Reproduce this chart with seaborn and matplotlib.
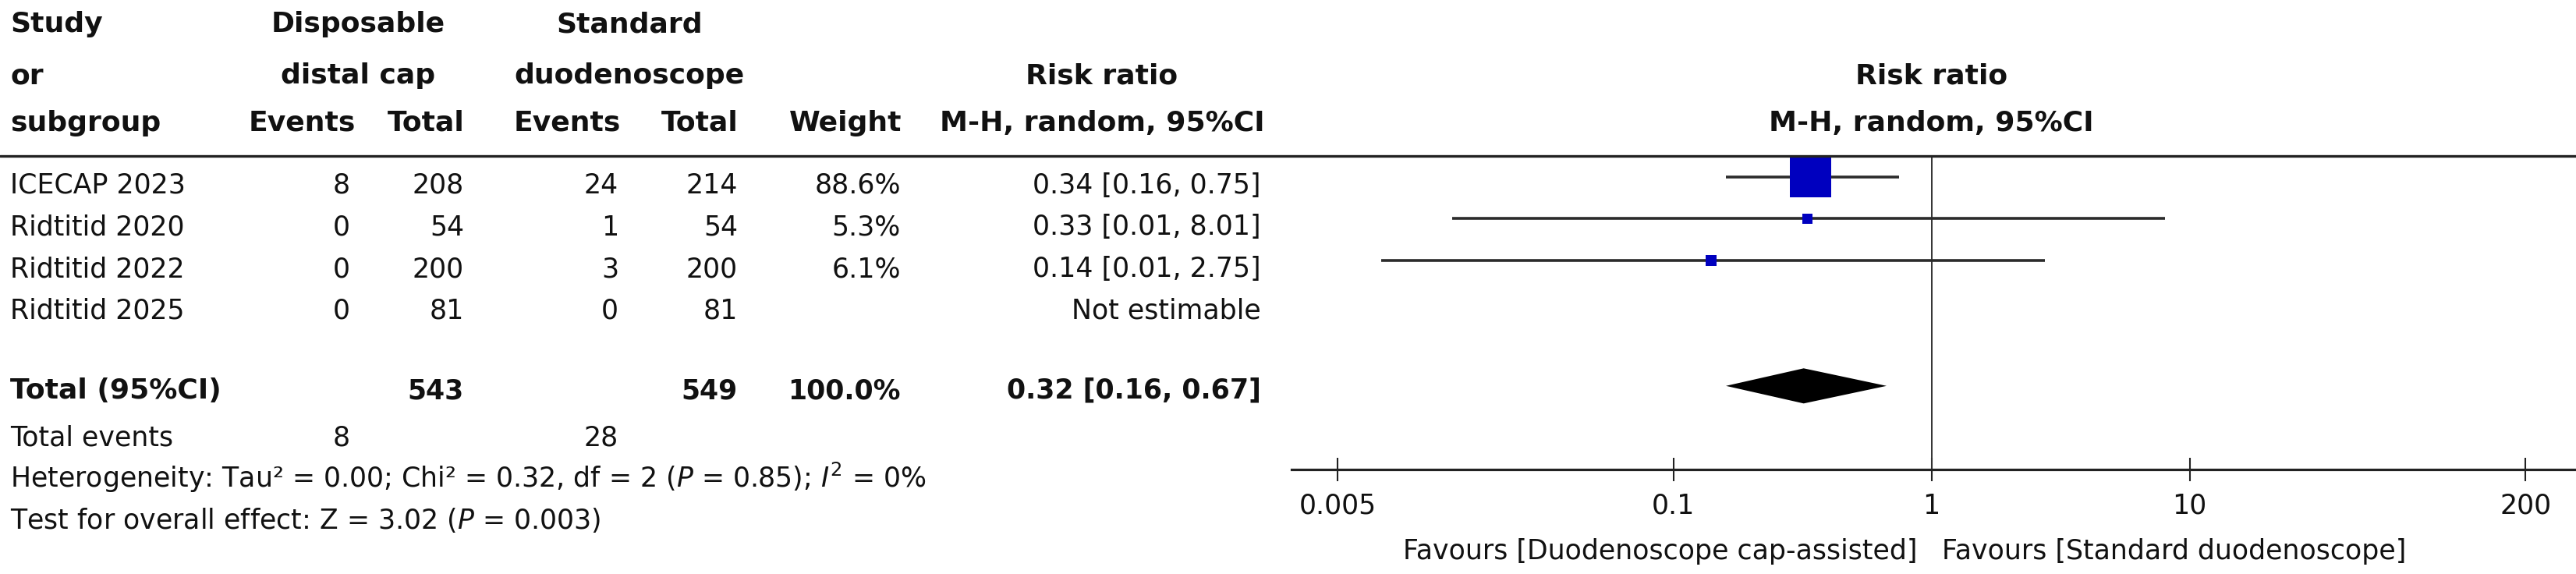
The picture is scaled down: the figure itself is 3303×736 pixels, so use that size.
import numpy as np
import pandas as pd
import matplotlib
matplotlib.use('Agg')
import matplotlib.pyplot as plt
import matplotlib.transforms as mtransforms
from matplotlib.lines import Line2D
from matplotlib.ticker import NullLocator
import seaborn as sns

# ---- data ----
studies = ['ICECAP 2023', 'Ridtitid 2020', 'Ridtitid 2022', 'Ridtitid 2025']
cap_events = [8, 0, 0, 0]
cap_total = [208, 54, 200, 81]
std_events = [24, 1, 3, 0]
std_total = [214, 54, 200, 81]
weights = [88.6, 5.3, 6.1, np.nan]
rr = [0.34, 0.33, 0.14, np.nan]
ci_lo = [0.16, 0.0139, 0.0074, np.nan]
ci_hi = [0.75, 8.01, 2.75, np.nan]

pooled_rr = 0.32
pooled_lo = 0.16
pooled_hi = 0.67
cap_total_sum = 543
std_total_sum = 549
cap_events_sum = 8
std_events_sum = 28

axis_ticks = [0.005, 0.1, 1, 10, 200]
axis_labels = ['0.005', '0.1', '1', '10', '200']

heterogeneity = 'Heterogeneity: Tau² = 0.00; Chi² = 0.32, df = 2 ($P$ = 0.85); $I^2$ = 0%'
overall = 'Test for overall effect: Z = 3.02 ($P$ = 0.003)'
favours_left = 'Favours [Duodenoscope cap-assisted]'
favours_right = 'Favours [Standard duodenoscope]'

sns.set_theme(style='white')
plt.rcParams['font.family'] = ['DejaVu Sans']
plt.rcParams['mathtext.fontset'] = 'dejavusans'

W, H = 3303, 736
fig = plt.figure(figsize=(W / 100, H / 100), dpi=100)
fig.patch.set_facecolor('white')


def fx(px):
    return px / W


def fy(py):
    return 1 - py / H


FS = 25       # body text
FSB = 26      # bold headers
INK = '#111111'

# forest panel: rows -0.5 (header rule) .. 7 (axis line)
ax = fig.add_axes([fx(1656), fy(602), 1 - fx(1656), fy(200) - fy(602)])
ax.set_facecolor('none')

df = pd.DataFrame({'study': studies, 'rr': rr, 'lo': ci_lo, 'hi': ci_hi,
                   'weight': weights, 'row': np.arange(len(studies))})
est = df.dropna(subset=['rr'])
pooled_row = 5

ax.axvline(1, color='#333333', lw=1.4, zorder=1)
ax.hlines(est['row'], est['lo'], est['hi'], color='#2b2b2b', lw=2.6, zorder=2)
sns.scatterplot(data=est, x='rr', y='row', size='weight', sizes=(0, 1650),
                size_norm=(0, 100), marker='s', color='#0000BF', linewidth=0,
                legend=False, ax=ax, zorder=3)
dh = 0.42
ax.fill([pooled_lo, pooled_rr, pooled_hi, pooled_rr],
        [pooled_row, pooled_row - dh, pooled_row, pooled_row + dh],
        color='black', lw=0, zorder=3)

ax.set_xscale('log')
ax.set_xlim(0.00332, 314)
ax.set_ylim(7, -0.5)
ax.set_xticks(axis_ticks)
ax.set_xticklabels(axis_labels)
ax.xaxis.set_minor_locator(NullLocator())
ax.set_yticks([])
ax.set_xlabel('')
ax.set_ylabel('')
ax.grid(False)
for s in ['top', 'left', 'right']:
    ax.spines[s].set_visible(False)
ax.spines['bottom'].set_color('#222222')
ax.spines['bottom'].set_linewidth(2.3)
ax.tick_params(axis='x', bottom=True, direction='inout', length=21, width=1.5,
               color='#222222', pad=11, labelsize=FS, labelcolor=INK)

# header rule across the whole figure
fig.add_artist(Line2D([0, 1], [fy(200), fy(200)], transform=fig.transFigure,
                      color='#222222', lw=2.4))

# right side headers centred on the line of no effect
blend = mtransforms.blended_transform_factory(ax.transData, fig.transFigure)
ax.text(1, fy(108), 'Risk ratio', transform=blend, ha='center', va='baseline',
        fontsize=FSB, fontweight='bold', color=INK)
ax.text(1, fy(168), 'M-H, random, 95%CI', transform=blend, ha='center',
        va='baseline', fontsize=FSB, fontweight='bold', color=INK)
left_t = mtransforms.offset_copy(blend, fig=fig, x=-13, units='points')
right_t = mtransforms.offset_copy(blend, fig=fig, x=10, units='points')
ax.text(1, fy(717), favours_left, transform=left_t, ha='right', va='baseline',
        fontsize=FS, color=INK)
ax.text(1, fy(717), favours_right, transform=right_t, ha='left', va='baseline',
        fontsize=FS, color=INK)

# ---- left table ----
def put(x, y, s, ha='left', bold=False, size=None):
    fig.text(fx(x), fy(y), s, ha=ha, va='baseline', color=INK,
             fontsize=size or (FSB if bold else FS),
             fontweight='bold' if bold else 'normal')


hdr = [41, 107, 168]
put(13, hdr[0], 'Study', bold=True)
put(13, hdr[1], 'or', bold=True)
put(13, hdr[2], 'subgroup', bold=True)
put(459, hdr[0], 'Disposable', ha='center', bold=True)
put(459, hdr[1], 'distal cap', ha='center', bold=True)
put(807, hdr[0], 'Standard', ha='center', bold=True)
put(807, hdr[1], 'duodenoscope', ha='center', bold=True)
put(456, hdr[2], 'Events', ha='right', bold=True)
put(596, hdr[2], 'Total', ha='right', bold=True)
put(796, hdr[2], 'Events', ha='right', bold=True)
put(947, hdr[2], 'Total', ha='right', bold=True)
put(1156, hdr[2], 'Weight', ha='right', bold=True)
put(1413, hdr[1], 'Risk ratio', ha='center', bold=True)
put(1413, hdr[2], 'M-H, random, 95%CI', ha='center', bold=True)

for i, name in enumerate(studies):
    y = 248 + 53.5 * i
    put(13, y, name)
    put(449, y, str(cap_events[i]), ha='right')
    put(595, y, str(cap_total[i]), ha='right')
    put(793, y, str(std_events[i]), ha='right')
    put(946, y, str(std_total[i]), ha='right')
    if np.isnan(rr[i]):
        put(1617, y, 'Not estimable', ha='right')
    else:
        put(1155, y, f'{weights[i]:.1f}%', ha='right')
        put(1617, y, f'{rr[i]:.2f} [{ci_lo[i]:.2f}, {ci_hi[i]:.2f}]', ha='right')

yt = 511
put(13, yt, 'Total (95%CI)', bold=True)
put(595, yt, str(cap_total_sum), ha='right', bold=True, size=FS)
put(946, yt, str(std_total_sum), ha='right', bold=True, size=FS)
put(1155, yt, f'{sum(w for w in weights if not np.isnan(w)):.1f}%', ha='right',
    bold=True, size=FS)
put(1617, yt, f'{pooled_rr:.2f} [{pooled_lo:.2f}, {pooled_hi:.2f}]', ha='right',
    bold=True, size=FS)

put(13, 572, 'Total events')
put(449, 572, str(cap_events_sum), ha='right')
put(793, 572, str(std_events_sum), ha='right')
put(13, 625, heterogeneity)
put(13, 678, overall)

fig.savefig('out.png', dpi=100, facecolor='white')
